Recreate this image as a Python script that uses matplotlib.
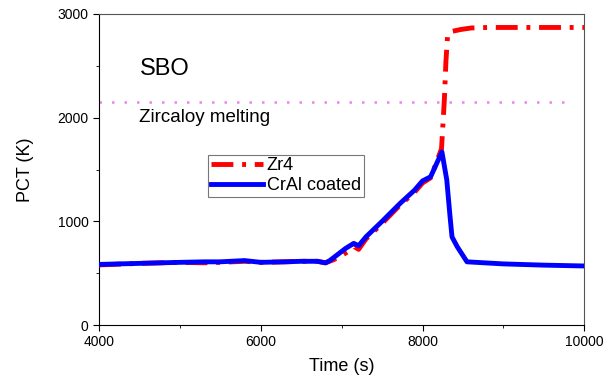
import matplotlib
matplotlib.use("Agg")
import matplotlib.pyplot as plt
from matplotlib.ticker import MultipleLocator

plt.rcParams['font.family'] = ['Liberation Sans', 'DejaVu Sans']

# CrAl coated cladding PCT
cral_t = [4000, 4500, 5000, 5300, 5500, 5800, 6000, 6300, 6500, 6700, 6800, 6850,
          6950, 7050, 7150, 7210, 7300, 7500, 7725, 7900, 8000, 8100, 8240,
          8300, 8340, 8365, 8430, 8550, 9000, 9500, 10000]
cral_v = [585, 595, 605, 610, 610, 622, 605, 610, 615, 615, 600, 620,
          680, 740, 788, 765, 850, 1000, 1175, 1300, 1390, 1430, 1670,
          1400, 1050, 850, 755, 610, 590, 578, 570]

# Zr4 cladding PCT
zr4_t = [4000, 4500, 5000, 5300, 5500, 5800, 6000, 6300, 6500, 6700, 6800, 6900,
         7000, 7100, 7150, 7210, 7300, 7500, 7725, 7900, 8000, 8100, 8235,
         8270, 8290, 8310, 8350, 8470, 8600, 8800, 9500, 10000]
zr4_v = [580, 595, 605, 600, 605, 615, 605, 610, 615, 615, 600, 630,
         670, 720, 760, 730, 830, 980, 1160, 1280, 1370, 1420, 1700,
         2170, 2550, 2790, 2830, 2850, 2865, 2870, 2870, 2870]

melting_T = 2150

fig = plt.figure(figsize=(6.15, 3.78), dpi=100)
ax = fig.add_axes([0.161, 0.140, 0.789, 0.823])

ax.plot(zr4_t, zr4_v, color='red', lw=3.5, linestyle=(0, (4.5, 1.8, 0.8, 1.8)),
        label='Zr4', zorder=3)
ax.plot(cral_t, cral_v, color='blue', lw=3.5, label='CrAl coated', zorder=4)
ax.plot([4000, 9850], [melting_T, melting_T], color='violet', lw=1.8,
        linestyle=(0, (1, 4)), zorder=2)

ax.set_xlim(4000, 10000)
ax.set_ylim(0, 3000)
ax.xaxis.set_major_locator(MultipleLocator(2000))
ax.xaxis.set_minor_locator(MultipleLocator(1000))
ax.yaxis.set_major_locator(MultipleLocator(1000))
ax.yaxis.set_minor_locator(MultipleLocator(500))
ax.tick_params(which='both', direction='out', labelsize=10)
ax.tick_params(which='major', length=4)
ax.tick_params(which='minor', length=2.5)

for s in ['top', 'right']:
    ax.spines[s].set_color('#555555')
for s in ['left', 'bottom']:
    ax.spines[s].set_color('black')

ax.set_xlabel('Time (s)', fontsize=13, labelpad=6)
ax.set_ylabel('PCT (K)', fontsize=13, labelpad=17)

ax.text(4500, 2410, 'SBO', fontsize=17)
ax.text(4500, 1955, 'Zircaloy melting', fontsize=13.5)

leg = ax.legend(loc='upper left', bbox_to_anchor=(0.225, 0.548), fontsize=13,
                frameon=True, fancybox=False, edgecolor='#555555',
                handlelength=2.9, borderpad=0.15, labelspacing=0.15,
                handletextpad=0.2, borderaxespad=0)
leg.get_frame().set_linewidth(0.8)

fig.savefig('out.png', dpi=100)
